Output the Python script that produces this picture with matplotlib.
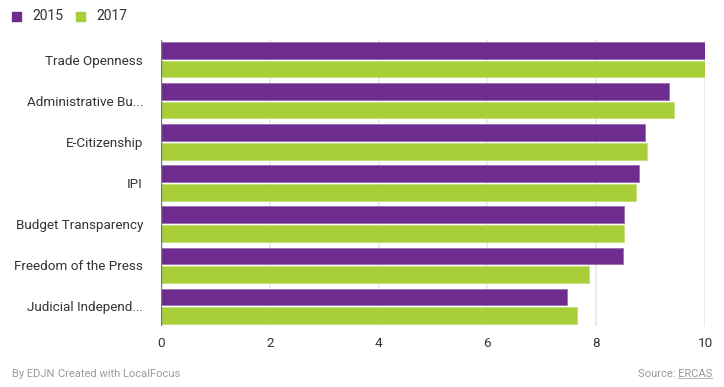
import numpy as np
import matplotlib
matplotlib.use('Agg')
import matplotlib.pyplot as plt
from matplotlib.patches import Rectangle
from matplotlib.lines import Line2D

categories = ["Trade Openness", "Administrative Bu...", "E-Citizenship", "IPI",
              "Budget Transparency", "Freedom of the Press", "Judicial Independ..."]
v2015 = [10.0, 9.34, 8.90, 8.79, 8.51, 8.49, 7.46]
v2017 = [10.0, 9.43, 8.93, 8.73, 8.51, 7.87, 7.65]
series = ["2015", "2017"]
xticks = [0, 2, 4, 6, 8, 10]

purple = "#6e2c8f"
green = "#a8cf38"
txt = "#333333"
grey = "#9a9a9a"

plt.rcParams['font.family'] = ['Roboto', 'DejaVu Sans']

fig = plt.figure(figsize=(7.24, 3.87), dpi=100)
ax = fig.add_axes([161/724, 1-326/387, 544/724, 286/387])

y = np.arange(len(categories))
h = 0.41
off = 0.225
ax.barh(y - off, v2015, height=h, color=purple, edgecolor="#9a6fb0", linewidth=0.6, zorder=3)
ax.barh(y + off, v2017, height=h, color=green, edgecolor="#c5e07a", linewidth=0.6, zorder=3)

ax.set_xlim(0, 10)
ax.set_ylim(len(categories) - 0.52, -0.48)
ax.set_yticks(y)
ax.set_yticklabels(categories, fontsize=9.7, color=txt)
ax.set_xticks(xticks)
ax.set_xticklabels([str(t) for t in xticks], fontsize=9.7, color=txt)
ax.tick_params(axis='y', length=0, pad=13)
ax.tick_params(axis='x', length=0, pad=8)
ax.grid(axis='x', color="#e8e8e8", linewidth=1.2, zorder=0)
for s in ax.spines.values():
    s.set_visible(False)
ax.axvline(0, color="#777777", linewidth=1, zorder=4)

# legend
for i, (name, col) in enumerate(zip(series, [purple, green])):
    x0 = 12 + i * 64
    fig.patches.append(Rectangle((x0/724, 1-21/387), 9/724, 9/387, transform=fig.transFigure,
                                 color=col, figure=fig))
    fig.text((x0 + 20)/724, 1-16/387, name, fontsize=10, color=txt, va='center')

# footer
fig.text(12/724, 1-374/387, "By EDJN", fontsize=8, color=grey, va='center')
fig.text(58/724, 1-374/387, "Created with LocalFocus", fontsize=8, color=grey, va='center')
fig.text(712/724, 1-374/387, "Source: ERCAS", fontsize=8, color=grey, va='center', ha='right')
src = fig.text(712/724, 1-374/387, "ERCAS", fontsize=8, color=grey, va='center', ha='right', alpha=0)
fig.canvas.draw()
bb = src.get_window_extent().transformed(fig.transFigure.inverted())
fig.lines.append(Line2D([bb.x0, bb.x1], [bb.y0 + 0.002, bb.y0 + 0.002], transform=fig.transFigure,
                        color="#bbbbbb", linewidth=0.8, figure=fig))

fig.savefig("out.png", dpi=100)
